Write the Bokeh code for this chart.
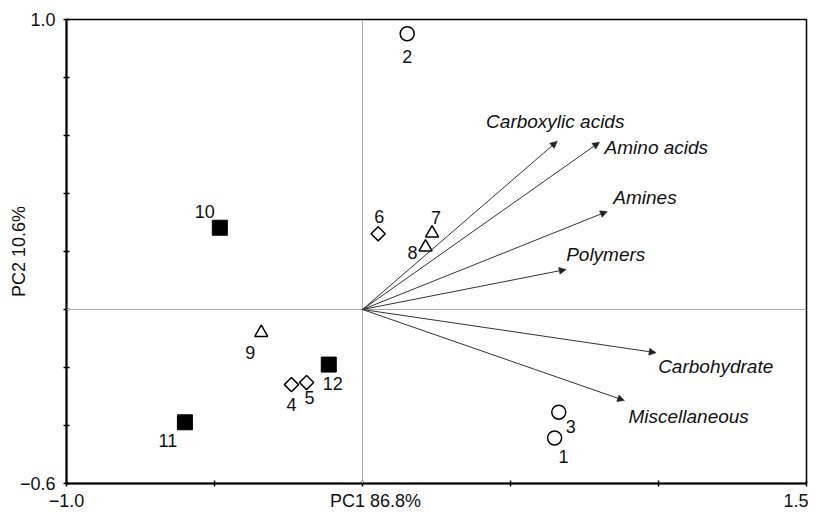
import math
from bokeh.plotting import figure
from bokeh.models import (Range1d, FixedTicker, ColumnDataSource, Span, Arrow,
                          NormalHead, LinearAxis)
from bokeh.core.properties import value
from bokeh.embed import file_html
from bokeh.resources import INLINE

# ---- data ----
sample_ids = ["1", "2", "3", "4", "5", "6", "7", "8", "9", "10", "11", "12"]
pc1 = [0.649, 0.151, 0.663, -0.240, -0.189, 0.053, 0.235, 0.213, -0.342, -0.482, -0.600, -0.114]
pc2 = [-0.443, 0.951, -0.354, -0.259, -0.252, 0.261, 0.263, 0.215, -0.080, 0.282, -0.389, -0.190]
groups = ["circle", "circle", "circle", "diamond", "diamond", "diamond",
          "triangle", "triangle", "triangle", "square", "square", "square"]

variables = ["Carboxylic acids", "Amino acids", "Amines", "Polymers", "Carbohydrate", "Miscellaneous"]
load_pc1 = [0.658, 0.801, 0.827, 0.688, 0.992, 0.885]
load_pc2 = [0.580, 0.577, 0.338, 0.138, -0.149, -0.314]

x_ticks = [-1.0, -0.5, 0.0, 0.5, 1.0, 1.5]
y_ticks = [-0.6, -0.4, -0.2, 0.0, 0.2, 0.4, 0.6, 0.8, 1.0]
y_tick_labels = {1.0: "1.0", -0.6: "\u22120.6"}
x_label_pos = [-1.0, 0.044, 1.5]
x_label_text = ["\u22121.0", "PC1 86.8%", "1.5"]
y_title = "PC2 10.6%"

# ---- styles (label offsets in pixels) ----
num_dx = [9, 0, 12, 0, 3, 1, 4, -13, -11, -15, -17, 4]
num_dy = [19, 23, 14, 20, 15, -17, -16, 5, 20, -16, 18, 19]
var_align = ["center", "left", "left", "left", "left", "left"]
var_dx = [-2, 5, 6, 0, 2, 4]
var_dy = [-20, 5, -14, -15, 14, 16]

FONT = "Liberation Sans"
INK = "#111111"

p = figure(width=808, height=513, x_range=Range1d(-1.0, 1.5), y_range=Range1d(-0.6, 1.0),
           output_backend="svg", toolbar_location=None,
           min_border_left=66, min_border_right=2, min_border_top=19, min_border_bottom=30)
p.grid.visible = False
p.outline_line_color = "black"
p.outline_line_width = 1.5
p.background_fill_color = "white"
p.border_fill_color = "white"

# axes: tick marks
p.xaxis.ticker = FixedTicker(ticks=x_ticks)
p.xaxis.major_label_overrides = {t: "" for t in x_ticks}
p.xaxis.major_label_text_font_size = "0px"
p.xaxis.major_label_standoff = 0
p.yaxis.ticker = FixedTicker(ticks=y_ticks)
p.yaxis.major_label_overrides = {t: y_tick_labels.get(t, "") for t in y_ticks}
for ax in (p.xaxis[0], p.yaxis[0]):
    ax.axis_line_width = 2
    ax.axis_line_color = "black"
    ax.major_tick_in = 3
    ax.major_tick_out = 3
    ax.major_tick_line_width = 1.5
    ax.major_tick_line_color = "black"
    ax.minor_tick_line_color = None
    ax.major_label_text_font = FONT
    ax.major_label_text_color = INK
p.yaxis.major_label_text_font_size = "18px"
p.yaxis.major_label_standoff = 8
p.yaxis.axis_label = y_title
p.yaxis.axis_label_text_font = FONT
p.yaxis.axis_label_text_font_size = "18px"
p.yaxis.axis_label_text_font_style = "normal"
p.yaxis.axis_label_text_color = INK
p.yaxis.axis_label_standoff = -12

# bottom axis carrying the texts
xlab_axis = LinearAxis(ticker=FixedTicker(ticks=x_label_pos),
                       major_label_overrides={v: t for v, t in zip(x_label_pos, x_label_text)},
                       axis_line_color=None, major_tick_line_color=None, minor_tick_line_color=None,
                       major_tick_in=0, major_tick_out=0, major_label_standoff=4,
                       major_label_text_font=FONT, major_label_text_font_size="18px",
                       major_label_text_color=INK)
p.add_layout(xlab_axis, "below")

# reference lines
p.add_layout(Span(location=0, dimension="height", line_color="#aaaaaa", line_width=1))
p.add_layout(Span(location=0, dimension="width", line_color="#aaaaaa", line_width=1))

# loading arrows
asrc = ColumnDataSource(dict(x=load_pc1, y=load_pc2))
p.add_layout(Arrow(x_start=0, y_start=0, x_end="x", y_end="y", source=asrc,
                   line_color="#333333", line_width=1,
                   end=NormalHead(size=7, fill_color="#222222", line_color="#222222", line_width=0.5)))

# variable labels
for name, lx, ly, al, dx, dy in zip(variables, load_pc1, load_pc2, var_align, var_dx, var_dy):
    p.text(x=[lx], y=[ly], text=[name], x_offset=dx, y_offset=dy,
           text_align=al, text_baseline="middle", text_font=value(FONT),
           text_font_style="italic", text_font_size="19px", text_color=INK)

# sample markers
def subset(kind):
    idx = [i for i, g in enumerate(groups) if g == kind]
    return dict(x=[pc1[i] for i in idx], y=[pc2[i] for i in idx])

p.scatter(marker="circle", size=14, fill_color="white", line_color="black", line_width=1.5,
          source=ColumnDataSource(subset("circle")))
p.scatter(marker="square", size=10, angle=math.pi / 4, fill_color="white", line_color="black",
          line_width=1.5, source=ColumnDataSource(subset("diamond")))
p.scatter(marker="triangle", size=13, fill_color="white", line_color="black", line_width=1.5,
          source=ColumnDataSource(subset("triangle")))
p.scatter(marker="square", size=15, fill_color="black", line_color="black", line_width=1,
          source=ColumnDataSource(subset("square")))

# sample number labels
p.text(x=pc1, y=pc2, text=sample_ids, x_offset=num_dx, y_offset=num_dy,
       text_align="center", text_baseline="middle", text_font=value(FONT),
       text_font_size="18px", text_color=INK)

open("out.html", "w").write(file_html(p, INLINE))
